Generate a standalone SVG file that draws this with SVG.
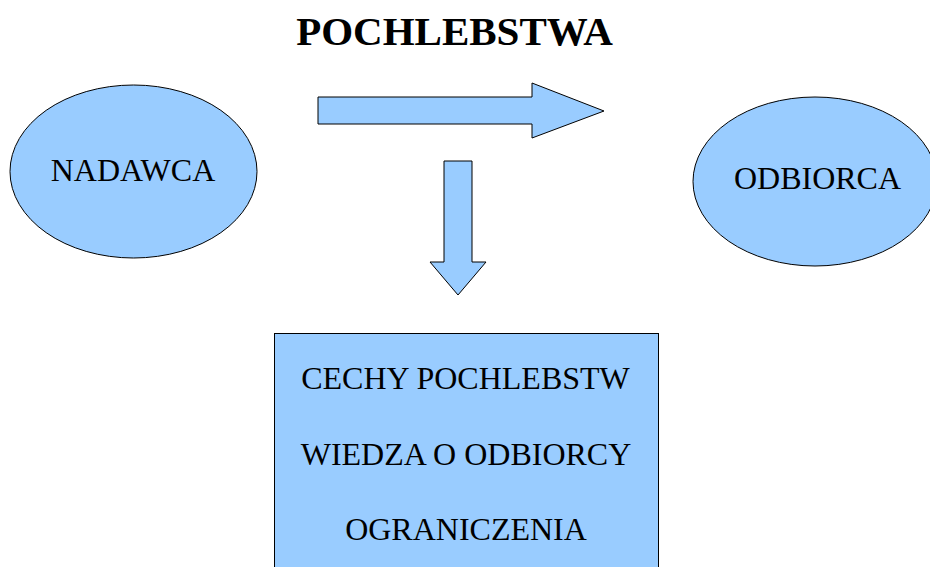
<svg xmlns="http://www.w3.org/2000/svg" width="930" height="567" viewBox="0 0 930 567">
<style>
.shape{fill:#99ccff;stroke:#000;stroke-width:1}
.lbl{font-family:"Liberation Serif",serif;font-size:32px;fill:#000;text-anchor:middle}
.title{font-family:"Liberation Serif",serif;font-size:41px;font-weight:bold;fill:#000;text-anchor:middle}
</style>
<rect width="930" height="567" fill="#fff"/>
<text class="title" x="454.5" y="45">POCHLEBSTWA</text>
<g id="nadawca">
<ellipse class="shape" cx="133.5" cy="171.5" rx="123.5" ry="86.5"/>
<text class="lbl" x="133" y="181">NADAWCA</text>
</g>
<g id="odbiorca">
<ellipse class="shape" cx="815" cy="181.5" rx="122" ry="84.5"/>
<text class="lbl" x="817.5" y="189">ODBIORCA</text>
</g>
<g id="cechy">
<rect class="shape" x="274.5" y="333.5" width="384" height="240"/>
<text class="lbl" x="465.5" y="389">CECHY POCHLEBSTW</text>
<text class="lbl" x="466" y="465">WIEDZA O ODBIORCY</text>
<text class="lbl" x="466" y="540">OGRANICZENIA</text>
</g>
<g id="connectors">
<polygon class="shape" points="318,97 532,97 532,83 604,111 532,138 532,124 318,124"/>
<polygon class="shape" points="444,161 472,161 472,262 486,262 458,295 430,262 444,262"/>
</g>
</svg>
